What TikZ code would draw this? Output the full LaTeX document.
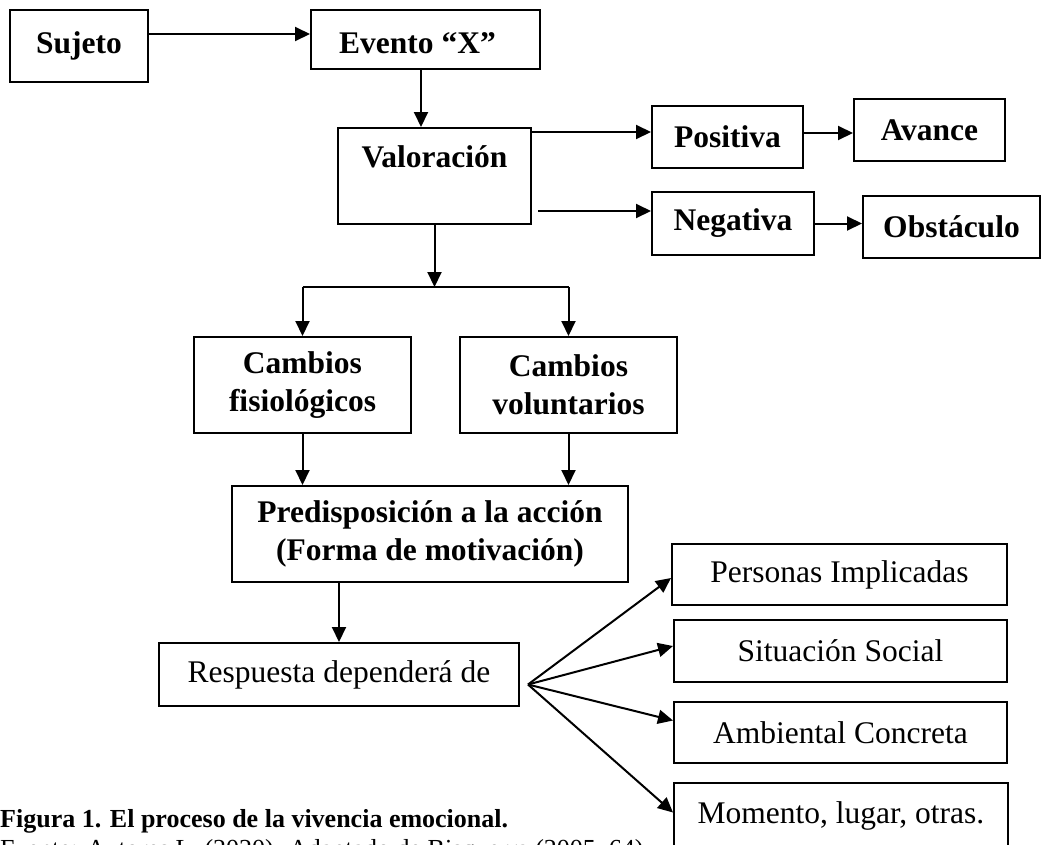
\documentclass[tikz,border=0pt]{standalone}
\usepackage{fontspec}
\setmainfont{Liberation Serif}
\usetikzlibrary{arrows.meta}
\begin{document}
\begin{tikzpicture}[x=1pt,y=-1pt,
  box/.style={draw, line width=2pt, inner sep=0pt, align=center},
  bt/.style={font=\fontsize{31.5}{38}\selectfont\bfseries},
  rt/.style={font=\fontsize{31.5}{38}\selectfont},
  arr/.style={line width=2pt, -{Triangle[length=15pt,width=14pt]}},
  ln/.style={line width=2pt},
  captb/.style={font=\fontsize{26}{30}\selectfont\bfseries, inner sep=0pt, anchor=base west},
  captr/.style={font=\fontsize{26}{30}\selectfont, inner sep=0pt, anchor=base west}]
\useasboundingbox (0,0) rectangle (1042,844);
\clip (0,0) rectangle (1042,844);

% boxes
\node[box,bt,minimum width=138pt,minimum height=72pt] (suj) at (79,46) {Sujeto};
\node[box,bt,minimum width=229pt,minimum height=59pt,text height=27pt,text depth=0pt] (ev) at (425.5,39.5) {Evento “X”\hspace*{16pt}};
\node[box,bt,minimum width=193pt,minimum height=96pt] (val) at (434.5,176) {Valoración\\ \mbox{}};
\node[box,bt,minimum width=151pt,minimum height=62pt] (pos) at (727.5,137) {Positiva};
\node[box,bt,minimum width=151pt,minimum height=62pt] (ava) at (929.5,130) {Avance};
\node[box,bt,minimum width=162pt,minimum height=63pt] (neg) at (733,223.5) {Negativa};
\node[box,bt,minimum width=177pt,minimum height=62pt] (obs) at (951.5,227) {Obstáculo};
\node[box,bt,minimum width=217pt,minimum height=96pt] (fis) at (302.5,385) {Cambios\\fisiológicos};
\node[box,bt,minimum width=217pt,minimum height=96pt] (vol) at (568.5,385) {Cambios\\voluntarios};
\node[box,bt,minimum width=396pt,minimum height=96pt] (pred) at (430,534) {Predisposición a la acción\\(Forma de motivación)};
\node[box,rt,minimum width=360pt,minimum height=63pt] (resp) at (339,674.5) {Respuesta dependerá de};
\node[box,rt,minimum width=335pt,minimum height=61pt] (per) at (839.5,574.5) {Personas Implicadas};
\node[box,rt,minimum width=333pt,minimum height=62pt] (sit) at (840.5,651) {Situación Social};
\node[box,rt,minimum width=333pt,minimum height=61pt] (amb) at (840.5,732.5) {Ambiental Concreta};
\node[box,rt,minimum width=334pt,minimum height=65pt] (mom) at (841,815.5) {Momento, lugar, otras.};

% connectors
\draw[arr] ([yshift=12pt]suj.east) -- ([yshift=12pt]suj.east -| ev.west);
\draw[arr] ([xshift=-4.5pt]ev.south) -- ([xshift=-4.5pt]ev.south |- val.north);
\draw[arr] ([yshift=44pt]val.east) -- ([yshift=44pt]val.east -| pos.west);
\draw[arr] ([xshift=6pt,yshift=-35pt]val.east) -- ([yshift=-35pt]val.east -| neg.west);
\draw[arr] ([yshift=4pt]pos.east) -- ([yshift=4pt]pos.east -| ava.west);
\draw[arr] (neg.east) -- (neg.east -| obs.west);

\coordinate (split) at (434.5,287);
\draw[arr] (val.south) -- (split);
\draw[ln] (fis.north |- split) -- (vol.north |- split);
\draw[arr] (fis.north |- split) -- (fis.north);
\draw[arr] (vol.north |- split) -- (vol.north);
\draw[arr] (fis.south) -- (fis.south |- pred.north);
\draw[arr] (vol.south) -- (vol.south |- pred.north);
\draw[arr] (resp.north |- pred.south) -- (resp.north);

\coordinate (fan) at ([xshift=8pt,yshift=-10pt]resp.east);
\draw[arr] (fan) -- ([yshift=-3.5pt]per.west);
\draw[arr] (fan) -- ([yshift=5pt]sit.west);
\draw[arr] (fan) -- ([yshift=12pt]amb.west);
\draw[arr] (fan) -- ([yshift=3pt]mom.west);

% caption
\node[captb] (cap1) at (0,827) {Figura 1. El proceso de la vivencia emocional.};
\node[captr] (cap2) at (0,857) {Fuente: Autores L. (2020). Adaptado de Bisquerra (2005, 64)};
\end{tikzpicture}
\end{document}
